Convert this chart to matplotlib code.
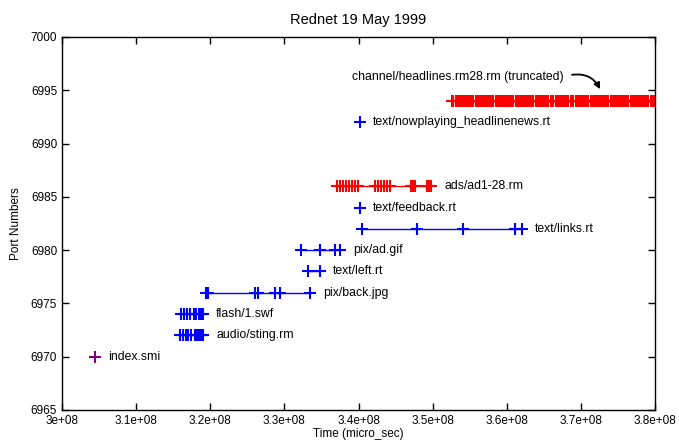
import numpy as np
import matplotlib
matplotlib.use('Agg')
import matplotlib.pyplot as plt
from matplotlib.ticker import FixedLocator, FixedFormatter

plt.rcParams['font.family'] = ['Liberation Sans', 'DejaVu Sans']

# times in units of 1e6 micro sec
index_smi = [304.5]
audio_sting = [315.9, 316.3, 316.7, 317.0, 317.4, 317.9, 318.2, 318.5, 318.8, 319.0]
flash_swf = [316.1, 316.5, 316.9, 317.3, 317.8, 318.1, 318.5, 318.8, 319.0]
pix_back = [319.4, 319.7, 326.0, 326.4, 328.7, 329.4, 333.5]
text_left = [333.2, 334.8]
pix_ad = [332.3, 334.8, 336.8, 337.5]
text_links = [340.5, 347.9, 354.1, 361.1, 362.0]
text_feedback = [340.2]
ads = [337.1, 337.5, 337.9, 338.3, 338.7, 339.1, 339.5, 339.9,
       342.2, 342.6, 343.0, 343.5, 343.9, 344.3,
       347.1, 347.4, 347.6,
       349.3, 349.5, 349.8]
nowplaying = [340.2]
headlines = [352.6, 352.8, 353.1, 353.3, 353.6, 353.8, 354.1, 354.3, 354.6, 354.8,
             355.1, 355.3, 355.5, 355.8, 356.0, 356.3, 356.5, 356.8, 357.0, 357.3,
             357.5, 357.8, 358.0, 358.2, 358.5, 358.7, 359.0, 359.2, 359.5, 359.7,
             360.0, 360.2, 360.5, 360.7, 360.9, 361.2, 361.4, 361.7, 361.9, 362.2,
             362.4, 362.7, 362.9, 363.2, 363.4, 363.6, 363.9, 364.1, 364.4, 364.6,
             364.9, 365.1, 365.4, 365.6, 365.9, 366.1, 366.3, 366.6, 366.8, 367.1,
             367.3, 367.6, 367.8, 368.1, 368.3, 368.6, 368.8, 369.0, 369.3, 369.5,
             369.8, 370.0, 370.3, 370.5, 370.8, 371.0, 371.3, 371.5, 371.7, 372.0,
             372.2, 372.5, 372.7, 373.0, 373.2, 373.5, 373.7, 374.0, 374.2, 374.4,
             374.7, 374.9, 375.2, 375.4, 375.7, 375.9, 376.2, 376.4, 376.7, 376.9,
             377.1, 377.4, 377.6, 377.9, 378.1, 378.4, 378.6, 378.9, 379.1, 379.4,
             379.6, 379.8, 380.1, 380.3, 380.6, 380.8]

series = [
    ('index.smi', 6970, index_smi, '#800080'),
    ('audio/sting.rm', 6972, audio_sting, 'blue'),
    ('flash/1.swf', 6974, flash_swf, 'blue'),
    ('pix/back.jpg', 6976, pix_back, 'blue'),
    ('text/left.rt', 6978, text_left, 'blue'),
    ('pix/ad.gif', 6980, pix_ad, 'blue'),
    ('text/links.rt', 6982, text_links, 'blue'),
    ('text/feedback.rt', 6984, text_feedback, 'blue'),
    ('ads/ad1-28.rm', 6986, ads, 'red'),
    ('text/nowplaying_headlinenews.rt', 6992, nowplaying, 'blue'),
    (None, 6994, headlines, 'red'),
]

xticks = [3.0e8, 3.1e8, 3.2e8, 3.3e8, 3.4e8, 3.5e8, 3.6e8, 3.7e8, 3.8e8]
xticklabels = ['3e+08', '3.1e+08', '3.2e+08', '3.3e+08', '3.4e+08',
               '3.5e+08', '3.6e+08', '3.7e+08', '3.8e+08']
yticks = [6965, 6970, 6975, 6980, 6985, 6990, 6995, 7000]

fig = plt.figure(figsize=(6.79, 4.41), dpi=100)
ax = fig.add_axes([0.0913, 0.0703, 0.8734, 0.8458])

for label, port, times, color in series:
    t = np.array(times) * 1e6
    ax.plot(t, [port] * len(t), color=color, lw=1.0, marker='+',
            markersize=9, markeredgewidth=1.5)
    if label:
        ax.annotate(label, (t[-1], port), xytext=(9.5, 0),
                    textcoords='offset points', va='center', ha='left',
                    fontsize=8.8)

# truncated stream label and its arrow
ax.text(3.3914e8, 6996.25, 'channel/headlines.rm28.rm (truncated)',
        va='center', ha='left', fontsize=8.8)
ax.annotate('', xy=(3.7259e8, 6995.1), xytext=(3.6880e8, 6996.45),
            arrowprops=dict(arrowstyle='-|>', color='black', lw=1.3,
                            connectionstyle='arc3,rad=-0.35',
                            shrinkA=0, shrinkB=0, mutation_scale=9))

ax.set_xlim(3.0e8, 3.8e8)
ax.set_ylim(6965, 7000)
ax.xaxis.set_major_locator(FixedLocator(xticks))
ax.xaxis.set_major_formatter(FixedFormatter(xticklabels))
ax.set_yticks(yticks)
ax.tick_params(direction='in', length=5, top=True, right=True, labelsize=8.5,
               width=1)
for s in ax.spines.values():
    s.set_linewidth(1)

ax.set_title('Rednet 19 May 1999', fontsize=10.5, pad=9)
ax.set_xlabel('Time (micro_sec)', fontsize=8.5, labelpad=1)
ax.set_ylabel('Port Numbers', fontsize=8.5, labelpad=6)

fig.savefig('out.png', dpi=100)
